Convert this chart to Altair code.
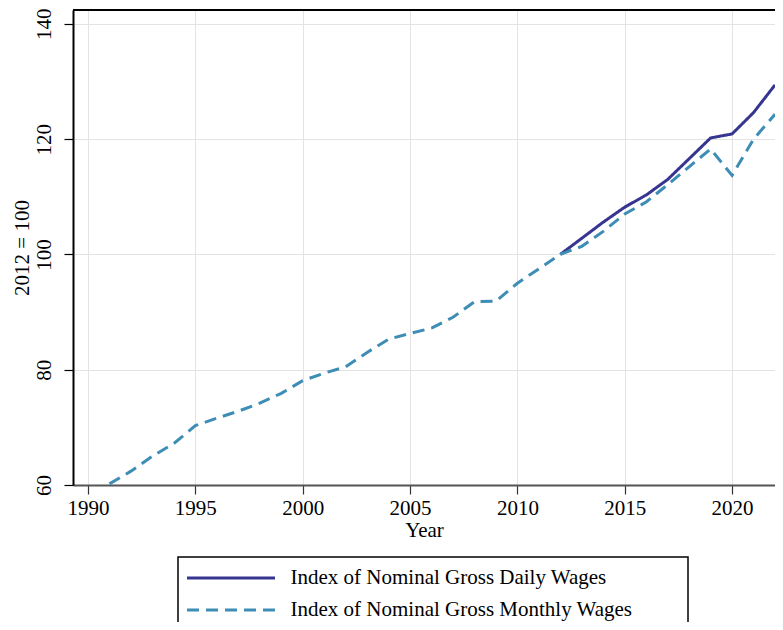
import altair as alt
import pandas as pd

years_monthly = list(range(1991, 2023))
monthly = [60.2, 62.4, 65.0, 67.2, 70.3, 71.6, 72.8, 74.2, 75.9, 78.1,
           79.4, 80.5, 83.0, 85.3, 86.3, 87.2, 89.1, 91.8, 91.9, 95.0,
           97.5, 100.0, 101.4, 104.0, 107.0, 109.1, 112.1, 115.2, 118.3, 113.7,
           120.0, 124.3]
years_daily = list(range(2012, 2023))
daily = [100.0, 102.8, 105.6, 108.2, 110.3, 113.0, 116.6, 120.2, 120.9, 124.6, 129.4]

names = ["Index of Nominal Gross Daily Wages", "Index of Nominal Gross Monthly Wages"]
colors = ["#36358f", "#3d8db5"]
dashes = [[1, 0], [12, 7]]
x_ticks = [1990, 1995, 2000, 2005, 2010, 2015, 2020]
y_ticks = [60, 80, 100, 120, 140]

df = pd.concat([
    pd.DataFrame({"Year": years_daily, "Value": daily, "Series": names[0]}),
    pd.DataFrame({"Year": years_monthly, "Value": monthly, "Series": names[1]}),
], ignore_index=True)

FONT = "Liberation Serif"
FS = 21
W, H = 702, 475

legend = alt.Legend(
    title=None, orient="none", legendX=112.5, legendY=558, direction="vertical",
    labelFont=FONT, labelFontSize=FS, labelColor="black", labelOffset=14,
    symbolType="stroke", symbolSize=7744, symbolStrokeWidth=3, clipHeight=20,
    rowPadding=11, padding=0, labelLimit=600,
)

lines = alt.Chart(df).mark_line(strokeWidth=3, clip=True).encode(
    x=alt.X("Year:Q", scale=alt.Scale(domain=[1989.3, 2022], nice=False, zero=False),
            axis=alt.Axis(values=x_ticks, format="d", title="Year", grid=True,
                          gridColor="#e3e3e3", gridWidth=1,
                          domainColor="#555555", domainWidth=2,
                          tickColor="#333333", tickSize=9, tickWidth=1.2,
                          labelFont=FONT, labelFontSize=FS, labelColor="black",
                          labelPadding=3, titleFont=FONT, titleFontSize=FS,
                          titleFontWeight="normal", titleColor="black", titlePadding=1)),
    y=alt.Y("Value:Q", scale=alt.Scale(domain=[60, 142.4], nice=False, zero=False),
            axis=alt.Axis(values=y_ticks, title="2012 = 100", grid=True,
                          gridColor="#e3e3e3", gridWidth=1,
                          domainColor="black", domainWidth=2,
                          tickColor="black", tickSize=9, tickWidth=1.2,
                          labelAngle=270, labelAlign="center", labelBaseline="bottom",
                          labelFont=FONT, labelFontSize=FS, labelColor="black",
                          labelPadding=10, titleFont=FONT, titleFontSize=FS,
                          titleFontWeight="normal", titleColor="black", titlePadding=1)),
    color=alt.Color("Series:N", scale=alt.Scale(domain=names, range=colors), legend=legend),
    strokeDash=alt.StrokeDash("Series:N", scale=alt.Scale(domain=names, range=dashes), legend=legend),
    order=alt.Order("Year:Q"),
)

one = pd.DataFrame({"a": [0]})
top_border = alt.Chart(one).mark_rule(color="black", strokeWidth=2).encode(
    x=alt.value(0), x2=alt.value(W), y=alt.value(0)
)
legend_box = alt.Chart(one).mark_rect(filled=False, stroke="black", strokeWidth=1.5).encode(
    x=alt.value(105), x2=alt.value(615), y=alt.value(547), y2=alt.value(700)
)

chart = alt.layer(lines, top_border, legend_box).properties(
    width=W, height=H,
    autosize=alt.AutoSizeParams(type="none"),
    padding={"left": 65, "top": 2, "right": 0, "bottom": 137},
).configure_view(stroke=None)

chart.save("out.html", embed_options={"renderer": "svg", "actions": False})
